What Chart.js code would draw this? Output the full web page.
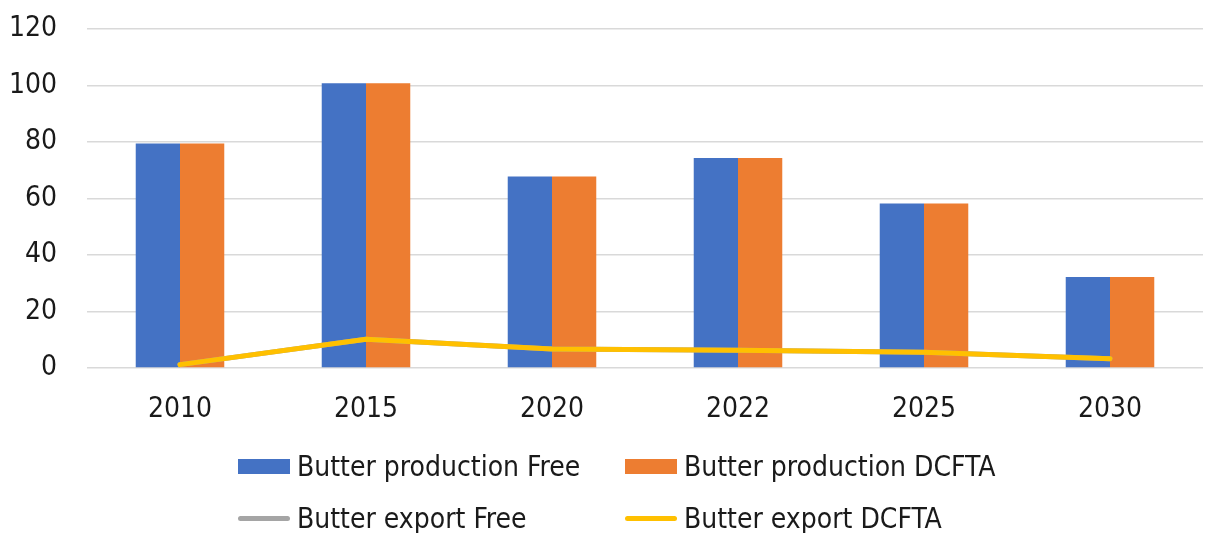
<!DOCTYPE html>
<html>
<head>
<meta charset="utf-8">
<script src="https://cdn.jsdelivr.net/npm/chart.js@4"></script>
<style>
  html, body { margin: 0; padding: 0; background: #fff; }
  #wrap { position: relative; width: 1205px; height: 533px; }
  #legend { position: absolute; left: 0; top: 0; width: 1205px; height: 533px; pointer-events: none;
    font-family: "DejaVu Sans Condensed", "DejaVu Sans", sans-serif; font-size: 28px; color: #1a1a1a; }
  .item { position: absolute; display: flex; align-items: center; white-space: nowrap; }
  .sw { width: 52px; margin-right: 7px; }
</style>
</head>
<body>
<div id="wrap">
  <canvas id="chart" width="1205" height="533"></canvas>
  <div id="legend"></div>
</div>
<script>
// values
const years = ["2010", "2015", "2020", "2022", "2025", "2030"];
const prodFree  = [79.5, 100.8, 67.8, 74.3, 58.2, 32.2];
const prodDcfta = [79.5, 100.8, 67.8, 74.3, 58.2, 32.2];
const expFree   = [1.2, 10.2, 6.7, 6.3, 5.6, 3.3];
const expDcfta  = [1.2, 10.2, 6.7, 6.3, 5.6, 3.3];
const yTicks = [0, 20, 40, 60, 80, 100, 120];

const font = { family: '"DejaVu Sans Condensed", "DejaVu Sans", sans-serif', size: 28 };

const chart = new Chart(document.getElementById("chart"), {
  type: "bar",
  data: {
    labels: years,
    datasets: [
      { type: "bar", label: "Butter production Free", data: prodFree, backgroundColor: "#4472C4", order: 2 },
      { type: "bar", label: "Butter production DCFTA", data: prodDcfta, backgroundColor: "#ED7D31", order: 3 },
      { type: "line", label: "Butter export Free", data: expFree, borderColor: "#A5A5A5", borderWidth: 5,
        pointRadius: 0, borderCapStyle: "round", borderJoinStyle: "round", order: 1 },
      { type: "line", label: "Butter export DCFTA", data: expDcfta, borderColor: "#FFC000", borderWidth: 5,
        pointRadius: 0, borderCapStyle: "round", borderJoinStyle: "round", order: 0 }
    ]
  },
  options: {
    responsive: false,
    animation: false,
    devicePixelRatio: 1,
    layout: { padding: { left: 9, right: 2, top: 29, bottom: 0 } },
    datasets: { bar: { categoryPercentage: 0.476, barPercentage: 1 } },
    plugins: { legend: { display: false }, tooltip: { enabled: false } },
    scales: {
      x: {
        grid: { display: false, drawTicks: false },
        border: { display: false },
        ticks: { font, color: "#1a1a1a", padding: 25 },
        afterFit: axis => { axis.height = 165; axis.paddingLeft = 0; axis.paddingRight = 0; }
      },
      y: {
        min: 0, max: 120,
        afterBuildTicks: axis => { axis.ticks = yTicks.map(v => ({ value: v })); },
        afterFit: axis => { axis.width = 78; axis.paddingTop = 0; axis.paddingBottom = 0; },
        grid: { color: "#d9d9d9", lineWidth: 1.5, drawTicks: false },
        border: { display: false },
        ticks: { font, color: "#1a1a1a", padding: 30 }
      }
    }
  }
});

// legend, 2 columns like the original
const slots = [[238, 466], [625, 466], [238, 518], [625, 518]];
document.getElementById("legend").innerHTML = chart.data.datasets.map((d, i) => {
  const [x, y] = slots[i];
  const isLine = d.type === "line";
  const sw = isLine
    ? `<span class="sw" style="height:5px;border-radius:3px;background:${d.borderColor}"></span>`
    : `<span class="sw" style="height:15px;background:${d.backgroundColor}"></span>`;
  return `<div class="item" style="left:${x}px;top:${y - 18}px;height:36px">${sw}<span>${d.label}</span></div>`;
}).join("");
</script>
</body>
</html>
